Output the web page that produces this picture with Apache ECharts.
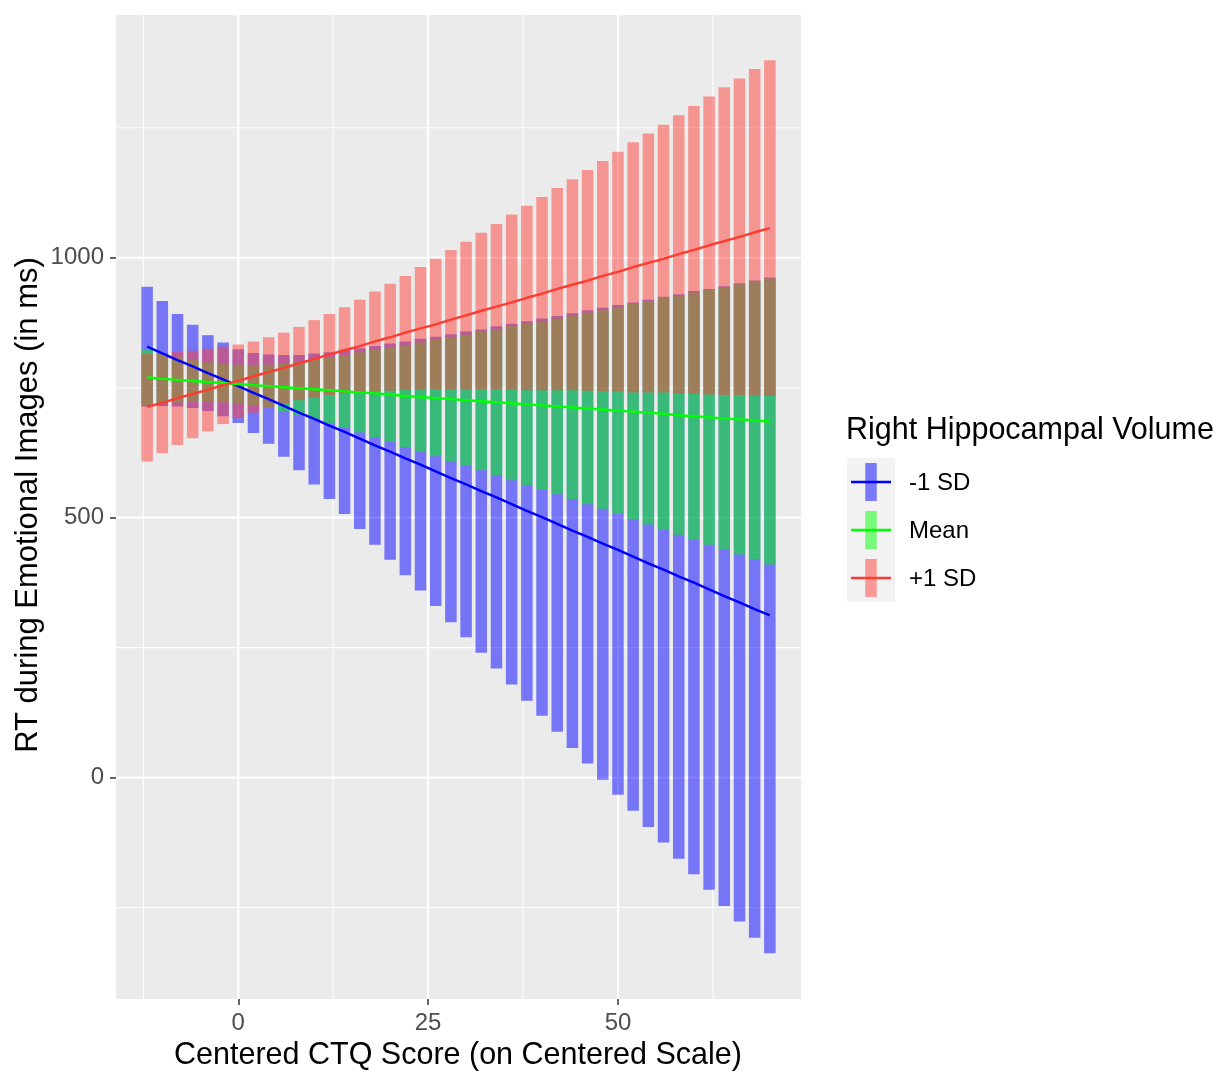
<!DOCTYPE html>
<html><head><meta charset="utf-8">
<script src="https://cdn.jsdelivr.net/npm/echarts@6/dist/echarts.min.js"></script>
<style>html,body{margin:0;padding:0;background:#fff}#c{width:1217px;height:1078px}</style>
</head><body><div id="c"></div>
<script>
// ---- data ----
const ctq = [-12,-10,-8,-6,-4,-2,0,2,4,6,8,10,12,14,16,18,20,22,24,26,28,30,32,34,36,38,40,42,44,46,48,50,52,54,56,58,60,62,64,66,68,70];
const groups = ['-1 SD', 'Mean', '+1 SD'];

// -1 SD (blue)
const fitLowSD = [829,816,803,791,778,766,753,740,728,715,702,690,677,665,652,639,627,614,602,589,576,564,551,539,526,513,501,488,475,463,450,438,425,412,400,387,375,362,349,337,324,312];
const lowerLowSD = [714,715,714,711,705,695,682,663,642,617,591,564,536,507,478,448,419,389,360,330,299,270,240,210,179,148,119,88,57,27,-4,-33,-64,-95,-125,-156,-186,-216,-247,-277,-308,-338];
const upperLowSD = [944,917,892,871,851,837,824,817,814,813,813,816,818,823,826,830,835,839,844,848,853,858,862,868,873,878,883,888,893,899,904,909,914,919,925,930,936,940,945,951,956,962];

// Mean (green)
const fitMean = [770,767,765,763,761,759,757,755,753,751,749,747,745,743,741,739,737,734,732,730,728,726,724,722,720,718,716,714,712,710,708,706,704,702,700,697,695,693,691,689,687,685];
const lowerMean = [717,719,721,723,723,722,720,717,712,705,698,690,681,673,664,655,646,636,627,618,609,600,591,582,572,563,554,545,536,526,517,507,497,487,477,467,457,448,439,429,420,410];
const upperMean = [823,815,809,803,799,796,794,793,794,797,800,804,809,813,818,823,828,832,837,842,847,852,857,862,868,873,878,883,888,894,899,905,911,917,923,927,933,938,943,949,954,960];

// +1 SD (red)
const fitHighSD = [713,721,730,738,746,755,763,772,780,788,797,805,814,822,830,839,847,856,864,872,881,889,898,906,914,923,931,940,948,956,965,973,982,990,998,1007,1015,1024,1032,1040,1049,1057];
const lowerHighSD = [608,624,640,653,666,680,691,702,713,720,726,731,736,739,742,743,744,746,746,747,747,747,747,747,746,745,745,745,745,744,743,743,741,741,741,739,738,737,736,736,735,734];
const upperHighSD = [815,817,819,821,825,829,833,839,847,856,867,880,892,905,919,935,950,965,982,998,1015,1031,1048,1065,1083,1100,1117,1134,1151,1169,1186,1204,1222,1239,1256,1274,1292,1310,1328,1345,1363,1380];

const xTicks = [0, 25, 50];
const yTicks = [0, 500, 1000];
const xMinor = [-12.5, 12.5, 37.5, 62.5];
const yMinor = [-250, 250, 750, 1250];

// ---- styling ----
const lineColors = ['#0000FF', '#00FF00', '#FF3B2F'];
const fillColors = ['rgba(0,0,255,0.5)', 'rgba(0,255,0,0.5)', 'rgba(255,64,58,0.5)'];
const FONT = '"Liberation Sans", Arial, Helvetica, sans-serif';
const BAR_W = 11.5;

const seriesData = [
  {fit: fitLowSD, lo: lowerLowSD, hi: upperLowSD},
  {fit: fitMean, lo: lowerMean, hi: upperMean},
  {fit: fitHighSD, lo: lowerHighSD, hi: upperHighSD}
];

const chart = echarts.init(document.getElementById('c'), null, {renderer: 'canvas'});

const series = [];
// grid lines (vertical)
series.push({
  type: 'custom', silent: true, z: 1,
  data: xMinor.map(v => [v, 0, 1.1]).concat(xTicks.map(v => [v, 0, 2.2])),
  encode: {x: 0, y: 1},
  renderItem: function (params, api) {
    const cs = params.coordSys;
    const x = api.coord([api.value(0), 0])[0];
    return {type: 'line', shape: {x1: x, y1: cs.y, x2: x, y2: cs.y + cs.height},
            style: {stroke: '#FFFFFF', lineWidth: api.value(2)}};
  }
});
// grid lines (horizontal)
series.push({
  type: 'custom', silent: true, z: 1,
  data: yMinor.map(v => [0, v, 1.1]).concat(yTicks.map(v => [0, v, 2.2])),
  encode: {x: 0, y: 1},
  renderItem: function (params, api) {
    const cs = params.coordSys;
    const y = api.coord([0, api.value(1)])[1];
    return {type: 'line', shape: {x1: cs.x, y1: y, x2: cs.x + cs.width, y2: y},
            style: {stroke: '#FFFFFF', lineWidth: api.value(2)}};
  }
});
// interval bars
seriesData.forEach((s, g) => {
  series.push({
    type: 'custom', name: groups[g], z: 2 + g, silent: true,
    data: ctq.map((x, i) => [x, s.lo[i], s.hi[i]]),
    encode: {x: 0, y: [1, 2]},
    renderItem: function (params, api) {
      const top = api.coord([api.value(0), api.value(2)]);
      const bot = api.coord([api.value(0), api.value(1)]);
      return {type: 'rect',
              shape: {x: top[0] - BAR_W / 2, y: top[1], width: BAR_W, height: bot[1] - top[1]},
              style: {fill: fillColors[g]}};
    }
  });
});
// fitted lines
seriesData.forEach((s, g) => {
  series.push({
    type: 'line', name: groups[g], z: 10 + g, silent: true,
    data: ctq.map((x, i) => [x, s.fit[i]]),
    showSymbol: false, symbol: 'none',
    lineStyle: {color: lineColors[g], width: 2.4}
  });
});

// legend (drawn as graphic)
const legendX = 847, legendTop = 458, keyH = 48, keyW = 48;
const graphics = [
  {type: 'text', x: 846, y: 431, style: {text: 'Right Hippocampal Volume', font: '30.5px ' + FONT, fill: '#000', textVerticalAlign: 'middle'}},
  {type: 'text', x: 458, y: 1056, style: {text: 'Centered CTQ Score (on Centered Scale)', font: '30.5px ' + FONT, fill: '#000', textAlign: 'center', textVerticalAlign: 'middle'}},
  {type: 'text', x: 28, y: 505, rotation: Math.PI / 2, style: {text: 'RT during Emotional Images (in ms)', font: '31px ' + FONT, fill: '#000', textAlign: 'center', textVerticalAlign: 'middle'}}
];
groups.forEach((name, g) => {
  const ky = legendTop + g * keyH;
  const cy = ky + keyH / 2;
  graphics.push({type: 'rect', shape: {x: legendX, y: ky, width: keyW, height: keyH}, style: {fill: '#F2F2F2'}});
  graphics.push({type: 'rect', shape: {x: legendX + keyW / 2 - BAR_W / 2, y: cy - 19, width: BAR_W, height: 38}, style: {fill: fillColors[g]}});
  graphics.push({type: 'line', shape: {x1: legendX + 4, y1: cy, x2: legendX + keyW - 4, y2: cy}, style: {stroke: lineColors[g], lineWidth: 2.4}});
  graphics.push({type: 'text', x: 909, y: cy + 1, style: {text: name, font: '24px ' + FONT, fill: '#000', textVerticalAlign: 'middle'}});
});

chart.setOption({
  animation: false,
  backgroundColor: '#FFFFFF',
  grid: {left: 116, right: 416, top: 15, bottom: 79, show: true, backgroundColor: '#EBEBEB', borderWidth: 0},
  xAxis: {
    type: 'value', min: -16.1, max: 74.1,
    axisLine: {show: false, onZero: false},
    splitLine: {show: false},
    axisTick: {show: true, customValues: xTicks, length: 6, lineStyle: {color: '#333333', width: 1.5}},
    axisLabel: {customValues: xTicks, fontSize: 24, fontFamily: FONT, color: '#4D4D4D', margin: 12, formatter: v => String(v)}
  },
  yAxis: {
    type: 'value', min: -426, max: 1467,
    axisLine: {show: false, onZero: false},
    splitLine: {show: false},
    axisTick: {show: true, customValues: yTicks, length: 6, lineStyle: {color: '#333333', width: 1.5}},
    axisLabel: {customValues: yTicks, fontSize: 24, fontFamily: FONT, color: '#4D4D4D', margin: 12, formatter: v => String(v)}
  },
  series: series,
  graphic: graphics
});
</script>
</body></html>
